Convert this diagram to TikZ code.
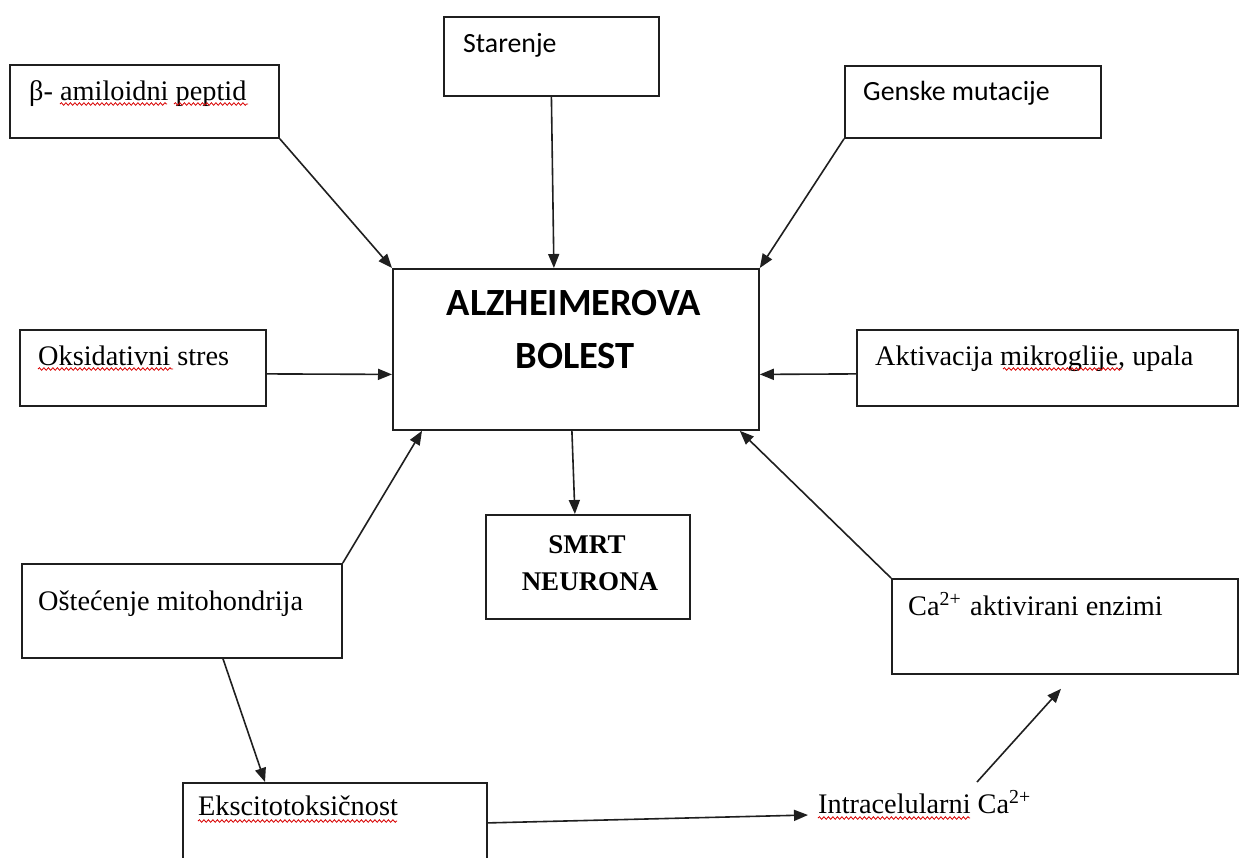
\documentclass[tikz,border=0pt]{standalone}
\usepackage{fontspec}
\setmainfont{Liberation Serif}
\newfontfamily\calfont{Carlito}
\usetikzlibrary{arrows.meta,calc,decorations.pathmorphing}
\begin{document}
\begin{tikzpicture}[x=1pt,y=-1pt,
  box/.style={draw=black!88, line width=1.8pt, inner sep=0pt, anchor=north west},
  lbl/.style={anchor=base west, inner sep=0pt, font=\fontsize{28.3}{33}\selectfont},
  cal/.style={anchor=base west, inner sep=0pt, font=\calfont\fontsize{27.8}{33}\selectfont},
  bigcal/.style={anchor=base, inner sep=0pt, font=\calfont\bfseries\fontsize{38.5}{44}\selectfont},
  boldtimes/.style={anchor=base, inner sep=0pt, font=\bfseries\fontsize{27}{32}\selectfont},
  arr/.style={draw=black!88, line width=1.6pt, -{Triangle[length=14pt,width=11pt]}},
  squig/.style={draw=red!85!black, line width=0.8pt, decorate, decoration={snake, amplitude=1.3pt, segment length=4.5pt}}
]
\clip (0,0) rectangle (1239,857);
\fill[white] (0,0) rectangle (1239,857);

% boxes
\node[box, minimum width=269pt, minimum height=73pt] (b) at (9,64) {};
\node[box, minimum width=215pt, minimum height=79pt] (s) at (443,16) {};
\node[box, minimum width=256pt, minimum height=72pt] (g) at (844,65) {};
\node[box, minimum width=366pt, minimum height=161pt] (ad) at (392,268) {};
\node[box, minimum width=246pt, minimum height=76pt] (o) at (19,329) {};
\node[box, minimum width=381pt, minimum height=76pt] (a) at (856,329) {};
\node[box, minimum width=204pt, minimum height=104pt] (sm) at (485,514) {};
\node[box, minimum width=320pt, minimum height=94pt] (m) at (21,563) {};
\node[box, minimum width=346pt, minimum height=95pt] (c) at (891,578) {};
\node[box, minimum width=304pt, minimum height=80pt] (e) at (182,782) {};

% texts
\node[lbl] (tb) at (29,100) {β- amiloidni peptid};
\node[cal] (ts) at (463,52) {Starenje};
\node[cal] (tg) at (863,100) {Genske mutacije};
\node[bigcal] (ad1) at (574,315) {ALZHEIMEROVA};
\node[bigcal] (ad2) at (575,368) {BOLEST};
\node[lbl] (to) at (38,365) {Oksidativni stres};
\node[lbl] (ta) at (875,365) {Aktivacija mikroglije,\ upala};
\node[boldtimes] (sm1) at (587,553) {SMRT};
\node[boldtimes] (sm2) at (590,590) {NEURONA};
\node[lbl] (tm) at (38,610) {Oštećenje mitohondrija};
\node[lbl] (tc) at (908,615) {Ca\textsuperscript{2+}\hspace{9pt}aktivirani enzimi};
\node[lbl] (te) at (198,815) {Ekscitotoksičnost};
\node[lbl] (ti) at (818,813) {Intracelularni Ca\textsuperscript{2+}};

% spell-check underlines
\draw[squig] ($(tb.base west)+(31,4)$) -- ++(107,0);
\draw[squig] ($(tb.base west)+(145,4)$) -- ++(74,0);
\draw[squig] ($(to.base west)+(0,4)$) -- ++(135,0);
\draw[squig] ($(ta.base west)+(128,4)$) -- ++(119,0);
\draw[squig] ($(te.base west)+(0,6)$) -- ++(199,0);
\draw[squig] ($(ti.base west)+(0,5)$) -- ++(152,0);

% connectors
\draw[arr] (b.south east) -- (ad.north west);
\draw[arr] (s.south) -- ($(ad.north)+(-22,0)$);
\draw[arr] (g.south west) -- (ad.north east);
\draw[arr] ($(o.east)+(0,6)$) -- ($(ad.west)+(0,25)$);
\draw[arr] ($(a.west)+(0,6)$) -- ($(ad.east)+(0,25)$);
\draw[arr] ($(ad.south)+(-4,0)$) -- ($(sm.north)+(-13,0)$);
\draw[arr] (m.north east) -- ($(ad.south west)+(30,0)$);
\draw[arr] (c.north west) -- ($(ad.south east)+(-20,0)$);
\draw[arr] ($(m.south west)+(202,0)$) -- ($(e.north west)+(83,0)$);
\draw[arr] (e.east) -- ($(ti.base west)+(-10,2)$);
\draw[arr] ($(ti.base west)+(159,-31)$) -- ($(c.south west)+(170,14)$);
\end{tikzpicture}
\end{document}
